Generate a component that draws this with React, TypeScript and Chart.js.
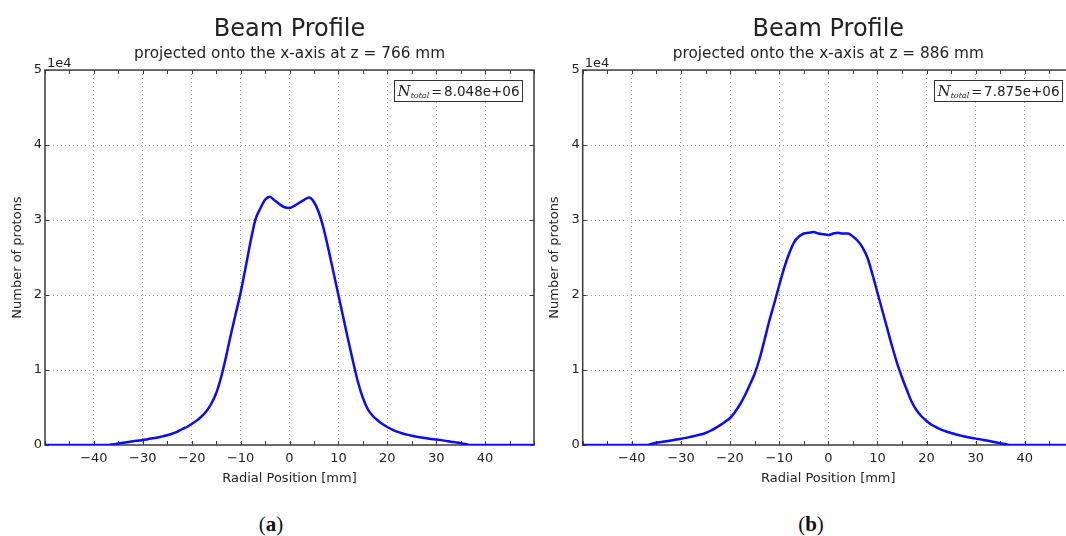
import React, { useEffect, useRef } from "react";
import { Chart, registerables } from "chart.js";

Chart.register(...registerables);

// ---------- data ----------
const positionsMm = [
  -50, -45, -40, -38, -37, -36, -35, -34, -33, -32, -31, -30, -29, -28, -27, -26, -25, -24, -23, -22, -21,
  -20, -19, -18, -17, -16, -15, -14, -13, -12, -11, -10, -9, -8, -7, -6, -5, -4, -3, -2, -1, 0, 1, 2, 3,
  4, 5, 6, 7, 8, 9, 10, 11, 12, 13, 14, 15, 16, 17, 18, 19, 20, 21, 22, 23, 24, 25, 26, 27, 28, 29, 30,
  31, 32, 33, 34, 35, 36, 37, 38, 40, 45, 50,
];

const protonsAt766 = [
  0, 0, 0, 0, 0, 100, 200, 300, 400, 500, 580, 660, 780, 900, 1000, 1150, 1300, 1500, 1750, 2100, 2400,
  2800, 3250, 3800, 4500, 5500, 6900, 9000, 11700, 14700, 17500, 20300, 23600, 27000, 30000, 31500, 32700, 33100, 32600, 32100, 31700, 31600, 31900, 32300, 32700,
  33000, 32400, 31000, 28800, 26000, 23000, 20000, 17000, 14000, 11100, 8400, 6300, 4800, 3900, 3300, 2800, 2400, 2050, 1780, 1560, 1380, 1230, 1100, 1000, 900, 810, 740,
  650, 550, 440, 350, 250, 120, 0, 0, 0, 0, 0,
];

const protonsAt886 = [
  0, 0, 0, 0, 0, 150, 300, 400, 500, 600, 720, 830, 950, 1100, 1250, 1400, 1600, 1900, 2250, 2650, 3100,
  3600, 4400, 5400, 6600, 8000, 9500, 11500, 14000, 16600, 18900, 21300, 23600, 25500, 27000, 27800, 28200, 28300, 28400, 28200, 28100, 28000, 28200, 28300, 28200,
  28200, 27800, 27200, 26300, 24900, 22700, 20300, 17900, 15500, 13100, 10900, 9000, 7300, 5700, 4600, 3800, 3200, 2700, 2350, 2050, 1800, 1600, 1400, 1250, 1100, 970, 850,
  750, 620, 500, 370, 250, 120, 0, 0, 0, 0, 0,
];

const xTickValues = [-40, -30, -20, -10, 0, 10, 20, 30, 40];
const yTickLabels = ["0", "1", "2", "3", "4", "5"];
const chartTitle = "Beam Profile";
const subtitles = [
  "projected onto the x-axis at z = 766 mm",
  "projected onto the x-axis at z = 886 mm",
];
const totals = ["8.048e+06", "7.875e+06"];
const panelLetters = ["a", "b"];
const xAxisTitle = "Radial Position [mm]";
const yAxisTitle = "Number of protons";
const offsetText = "1e4";

// ---------- style ----------
const FONT = "'DejaVu Sans', sans-serif";
const SERIF = "'DejaVu Serif', serif";
const TEXT = "#222222";
const LINE = "#0a0aff";

function decorPlugin(total: string) {
  return {
    id: "mplDecor",
    beforeDatasetsDraw(chart: any) {
      const { ctx, chartArea: a, scales } = chart;
      ctx.save();
      ctx.strokeStyle = "#3a3a3a";
      ctx.lineWidth = 1;
      ctx.beginPath();
      for (const t of scales.x.ticks) {
        const px = Math.round(scales.x.getPixelForValue(t.value)) + 0.5;
        ctx.moveTo(px, a.bottom);
        ctx.lineTo(px, a.bottom - 4);
        ctx.moveTo(px, a.top);
        ctx.lineTo(px, a.top + 4);
      }
      for (const t of scales.y.ticks) {
        const py = Math.round(scales.y.getPixelForValue(t.value)) + 0.5;
        ctx.moveTo(a.left, py);
        ctx.lineTo(a.left + 4, py);
        ctx.moveTo(a.right, py);
        ctx.lineTo(a.right - 4, py);
      }
      ctx.stroke();
      ctx.lineWidth = 1.5;
      ctx.strokeRect(a.left, a.top, a.right - a.left, a.bottom - a.top);
      ctx.restore();
    },
    afterDraw(chart: any) {
      const { ctx, chartArea: a } = chart;
      ctx.save();
      ctx.fillStyle = TEXT;
      ctx.textAlign = "left";
      ctx.textBaseline = "alphabetic";
      ctx.font = `13px ${FONT}`;
      ctx.fillText(offsetText, a.left + 2, a.top - 3);

      const nFont = `italic 15px ${SERIF}`;
      const subFont = `italic 8px ${SERIF}`;
      const eqFont = `13px ${FONT}`;
      const valFont = `13.5px ${FONT}`;
      ctx.font = nFont;
      const wN = ctx.measureText("N").width;
      ctx.font = subFont;
      const wS = ctx.measureText("total").width;
      ctx.font = eqFont;
      const wE = ctx.measureText("=").width;
      ctx.font = valFont;
      const wV = ctx.measureText(total).width;
      const gap = 2;
      const boxW = wN + wS + gap + wE + gap + wV + 6;
      const boxH = 21;
      const bx = Math.round(a.right - 11.5 - boxW) + 0.5;
      const by = Math.round(a.top + 9.5) + 0.5;
      ctx.fillStyle = "#ffffff";
      ctx.fillRect(bx, by, boxW, boxH);
      ctx.strokeStyle = "#333333";
      ctx.lineWidth = 1;
      ctx.strokeRect(bx, by, boxW, boxH);
      const base = by + 15;
      let cx = bx + 3;
      ctx.fillStyle = TEXT;
      ctx.font = nFont;
      ctx.fillText("N", cx, base);
      cx += wN;
      ctx.font = subFont;
      ctx.fillText("total", cx, base + 2);
      cx += wS + gap;
      ctx.font = eqFont;
      ctx.fillText("=", cx, base);
      cx += wE + gap;
      ctx.font = valFont;
      ctx.fillText(total, cx, base);
      ctx.restore();
    },
  };
}

type PanelProps = {
  values: number[];
  subtitle: string;
  total: string;
  left: number;
  width: number;
  padRight: number;
  yAxisWidth: number;
  yTitlePad: number;
};

function Panel(props: PanelProps) {
  const ref = useRef<HTMLCanvasElement>(null);
  useEffect(() => {
    const points = positionsMm.map((x, i) => ({ x, y: props.values[i] }));
    const chart = new Chart(ref.current as HTMLCanvasElement, {
      type: "line",
      data: {
        datasets: [
          {
            data: points,
            borderColor: LINE,
            backgroundColor: LINE,
            borderWidth: 2.5,
            pointRadius: 0,
            cubicInterpolationMode: "monotone",
            fill: false,
          },
        ],
      },
      options: {
        responsive: false,
        animation: false,
        devicePixelRatio: 1,
        layout: { padding: { left: 0, right: props.padRight, top: 0, bottom: 10 } },
        plugins: {
          legend: { display: false },
          tooltip: { enabled: false },
          title: {
            display: true,
            text: chartTitle,
            fullSize: false,
            color: TEXT,
            font: { family: FONT, size: 24, weight: "normal" },
            padding: { top: 15.6, bottom: 0 },
          },
          subtitle: {
            display: true,
            text: props.subtitle,
            fullSize: false,
            color: TEXT,
            font: { family: FONT, size: 15.3, weight: "normal" },
            padding: { top: 0.6, bottom: 6.7 },
          },
        },
        scales: {
          x: {
            type: "linear",
            min: -50,
            max: 50,
            afterFit: (s: any) => {
              s.height = 45;
            },
            ticks: {
              stepSize: 5,
              autoSkip: false,
              maxRotation: 0,
              padding: 6,
              color: TEXT,
              font: { family: FONT, size: 13 },
              callback: (v: any) =>
                xTickValues.includes(Number(v)) ? String(v).replace("-", "\u2212") : "",
            },
            grid: {
              drawTicks: false,
              lineWidth: 1,
              color: (c: any) =>
                c.tick && xTickValues.includes(c.tick.value) ? "#9a9a9a" : "rgba(0,0,0,0)",
            },
            border: { display: false, dash: [1, 3] },
            title: {
              display: true,
              text: xAxisTitle,
              color: TEXT,
              font: { family: FONT, size: 13 },
              padding: { top: 0, bottom: 4 },
            },
          },
          y: {
            type: "linear",
            min: 0,
            max: 50000,
            afterFit: (s: any) => {
              s.width = props.yAxisWidth;
            },
            ticks: {
              stepSize: 10000,
              padding: 3,
              color: TEXT,
              font: { family: FONT, size: 13 },
              callback: (_v: any, i: number) => yTickLabels[i],
            },
            grid: {
              drawTicks: false,
              lineWidth: 1,
              color: (c: any) =>
                c.tick && c.tick.value > 0 && c.tick.value < 50000 ? "#9a9a9a" : "rgba(0,0,0,0)",
            },
            border: { display: false, dash: [1, 3] },
            title: {
              display: true,
              text: yAxisTitle,
              color: TEXT,
              font: { family: FONT, size: 13 },
              padding: { top: props.yTitlePad, bottom: 0 },
            },
          },
        },
      },
      plugins: [decorPlugin(props.total)],
    } as any);
    return () => chart.destroy();
  }, []);
  return (
    <canvas
      ref={ref}
      width={props.width}
      height={500}
      style={{ position: "absolute", left: props.left, top: 0 }}
    />
  );
}

function PanelLabel({ letter, center }: { letter: string; center: number }) {
  return (
    <div
      style={{
        position: "absolute",
        left: center - 50,
        width: 100,
        top: 512,
        lineHeight: "24px",
        textAlign: "center",
        fontFamily: "'Liberation Serif', serif",
        fontSize: 21,
        color: "#111",
      }}
    >
      (<b>{letter}</b>)
    </div>
  );
}

export default function App() {
  return (
    <div
      style={{
        position: "absolute",
        left: 0,
        top: 0,
        width: 1066,
        height: 536,
        overflow: "hidden",
        background: "#ffffff",
      }}
    >
      <Panel
        values={protonsAt766}
        subtitle={subtitles[0]}
        total={totals[0]}
        left={0}
        width={540}
        padRight={5.5}
        yAxisWidth={45}
        yTitlePad={10}
      />
      <Panel
        values={protonsAt886}
        subtitle={subtitles[1]}
        total={totals[1]}
        left={538}
        width={545}
        padRight={9}
        yAxisWidth={44.7}
        yTitlePad={9}
      />
      <PanelLabel letter={panelLetters[0]} center={271} />
      <PanelLabel letter={panelLetters[1]} center={811} />
    </div>
  );
}
